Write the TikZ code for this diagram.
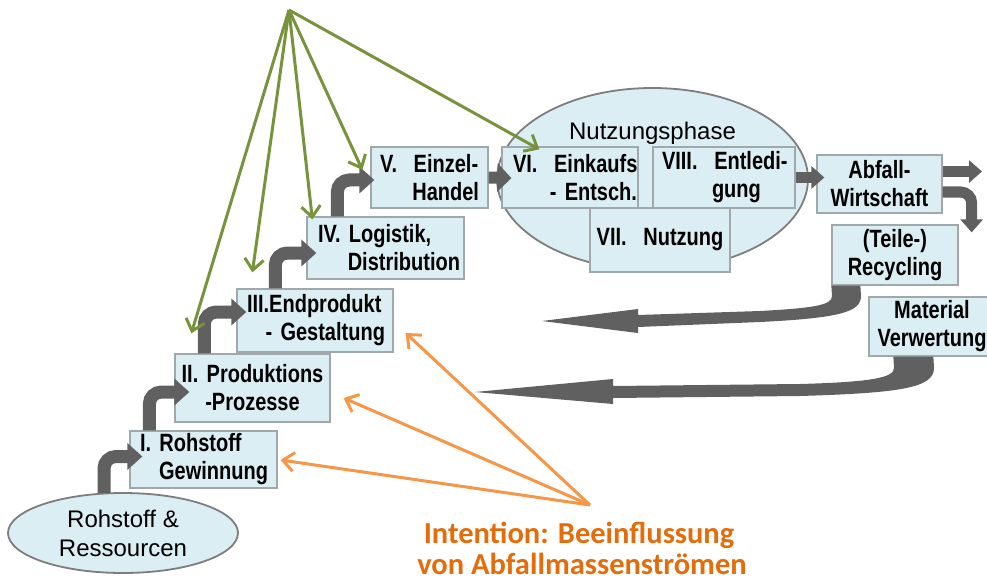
\documentclass[tikz,border=0pt]{standalone}
\usepackage{fontspec}
\setmainfont{Liberation Sans}
\newfontfamily\narrowsans[FakeStretch=0.80]{Liberation Sans}
\newfontfamily\calloutfont{Carlito}
\usetikzlibrary{arrows.meta,shapes.geometric,calc}

\definecolor{boxfill}{RGB}{219,238,243}
\definecolor{boxline}{RGB}{160,168,172}
\definecolor{ellline}{RGB}{125,125,125}
\definecolor{flowgray}{RGB}{96,96,96}
\definecolor{leafgreen}{RGB}{119,147,60}
\definecolor{arrorange}{RGB}{247,150,70}
\definecolor{textorange}{RGB}{228,108,10}

\newcommand\stagetext{\narrowsans\bfseries\fontsize{25}{28}\selectfont}
\newcommand\plaintext{\fontsize{24}{29}\selectfont}
\newcommand\toright{\hspace*{\stretch{1000}}}

\begin{document}
\begin{tikzpicture}[x=1pt,y=-1pt,
  stage/.style={draw=boxline, line width=1.3pt, fill=boxfill, inner ysep=0pt,
    font=\stagetext, align=left},
  centerstage/.style={stage, align=center},
  bubble/.style={ellipse, draw=ellline, line width=1.8pt, fill=boxfill, inner sep=0pt},
  steparrow/.style={draw=flowgray, line width=13pt, rounded corners=12pt,
    -{Triangle[length=15pt,width=26pt]}},
  flowarrow/.style={draw=flowgray, line width=12pt, -{Triangle[length=14pt,width=28pt]}},
  smallflow/.style={draw=flowgray, line width=11pt, -{Triangle[length=13pt,width=22pt]}},
  influence/.style={line width=3pt, -{Straight Barb[length=11pt,width=19pt]}},
  callout/.style={font=\calloutfont\bfseries\fontsize{30.5}{33}\selectfont,
    text=textorange, anchor=base, inner sep=0pt}
]
\useasboundingbox (0,0) rectangle (987,580);
\clip (0,0) rectangle (987,580);

% ---- usage phase ----
\node[bubble, minimum width=311pt, minimum height=182pt] (use) at (652.5,179) {};
\node[font=\plaintext, anchor=base, inner sep=0pt] (usetitle) at (652.5,140) {Nutzungsphase};

% ---- raw material source ----
\node[bubble, minimum width=230pt, minimum height=80pt, align=center, font=\plaintext]
  (res) at (123,533) {Rohstoff \&\\Ressourcen};

% ---- stages ----
\node[stage, inner xsep=9pt, text width=129pt, minimum height=57pt] (b1) at (203.5,459.5)
  {\hspace*{1pt}\mbox{I.\ Rohstoff}\\\toright\mbox{Gewinnung}};
\node[centerstage, inner xsep=2pt, text width=151pt, minimum height=68pt] (b2) at (252.5,388)
  {\mbox{II. Produktions}\\\mbox{-Prozesse}};
\node[stage, inner xsep=8pt, text width=140pt, minimum height=63pt] (b3) at (315,320.5)
  {\hspace*{2pt}\mbox{III.Endprodukt}\\\toright\mbox{- Gestaltung}};
\node[stage, inner xsep=4pt, text width=149pt, minimum height=62pt] (b4) at (385.5,248)
  {\hspace*{7pt}\mbox{IV. Logistik,}\\\toright\mbox{Distribution}};
\node[stage, inner xsep=9pt, text width=99pt, minimum height=61pt] (b5) at (429.5,177.5)
  {\mbox{V.\ \ Einzel-}\\\toright\mbox{Handel}\hspace*{2pt}};
\node[stage, inner xsep=1pt, text width=134pt, minimum height=61pt] (b6) at (570,177.5)
  {\hspace*{10pt}\mbox{VI.\ \ Einkaufs}\\\toright\mbox{- Entsch.}};
\node[stage, inner xsep=9pt, text width=124pt, minimum height=61pt] (b8) at (724,177.5)
  {\mbox{VIII.\ \ Entledi-}\\\hspace*{50pt}\mbox{gung}};
\node[centerstage, inner xsep=2pt, text width=136pt, minimum height=64pt] (b7) at (660,240)
  {\mbox{VII.\ \ Nutzung}};

% ---- waste handling ----
\node[centerstage, inner xsep=0pt, text width=125pt, minimum height=58pt] (waste) at (879.5,184)
  {Abfall-\\Wirtschaft};
\node[centerstage, inner xsep=0pt, text width=126pt, minimum height=60pt] (recyc) at (895,255)
  {(Teile-)\\Recycling};
\node[centerstage, inner xsep=0pt, text width=126pt, minimum height=59pt] (matvw) at (932,326.5)
  {Material\\Verwertung};

% ---- material flow along the stages ----
\draw[steparrow] ($(res.north)+(-19,1)$) |- ($(b1.west)+(13,-3)$);
\draw[steparrow] ($(b1.north west)+(20,0)$) |- ($(b2.west)+(15,4)$);
\draw[steparrow] ($(b2.north west)+(30,0)$) |- ($(b3.west)+(10,-8.5)$);
\draw[steparrow] ($(b3.north west)+(39,0)$) |- ($(b4.west)+(10,5)$);
\draw[steparrow] ($(b4.north west)+(31,0)$) |- ($(b5.west)+(4,2.5)$);
\draw[flowarrow] (b5.east) -- ($(b6.west)+(10,0.5)$);
\draw[smallflow] (b8.east) -- ($(b8.east -| waste.west)+(8,0)$);
\coordinate (outflow) at (982,171.5);
\draw[smallflow] (waste.east |- outflow) -- (outflow);
\draw[smallflow, rounded corners=11pt] ($(waste.east)+(0,8)$) -| ($(recyc.north east)+(13,8)$);

% ---- return flows from recycling and material recovery ----
\fill[flowgray] (recyc.south west) -- ($(recyc.south west)+(29,0)$) -- (861,296)
  .. controls (861,312) and (840,318) .. (760,322) -- (638,327) -- (638,333)
  -- (542,321) -- (638,309) -- (638,315) -- (760,311)
  .. controls (815,308) and (832,305) .. (832,296) -- cycle;
\fill[flowgray] ($(matvw.south west)+(25,0)$) -- ($(matvw.south west)+(65,0)$) -- (934,368)
  .. controls (934,388) and (900,393) .. (800,396) -- (613,398) -- (613,404)
  -- (475,392) -- (613,379) -- (613,386) -- (800,384)
  .. controls (870,382) and (894,378) .. (894,368) -- cycle;

% ---- influence arrows (green) ----
\coordinate (src) at (289,10);
\draw[influence, leafgreen] (src) -- ($(b2.north west)+(17,-20)$);
\draw[influence, leafgreen] (src) -- ($(b3.north west)+(16,-16)$);
\draw[influence, leafgreen] (src) -- ($(b4.north west)+(6,3)$);
\draw[influence, leafgreen] (src) -- ($(b5.west)+(-8,-7.5)$);
\draw[influence, leafgreen] (src) -- ($(b6.north west)+(38,3)$);

% ---- intention callout (orange) ----
\coordinate (intent) at (590,505);
\draw[influence, arrorange] (intent) -- ($(b1.east)+(3,0.5)$);
\draw[influence, arrorange] (intent) -- ($(b2.east)+(13,10)$);
\draw[influence, arrorange] (intent) -- ($(b3.east)+(12,12.5)$);
\node[callout] (note1) at (579,543) {Intention: Beeinflussung};
\node[callout] (note2) at (582,574) {von Abfallmassenströmen};
\end{tikzpicture}
\end{document}
